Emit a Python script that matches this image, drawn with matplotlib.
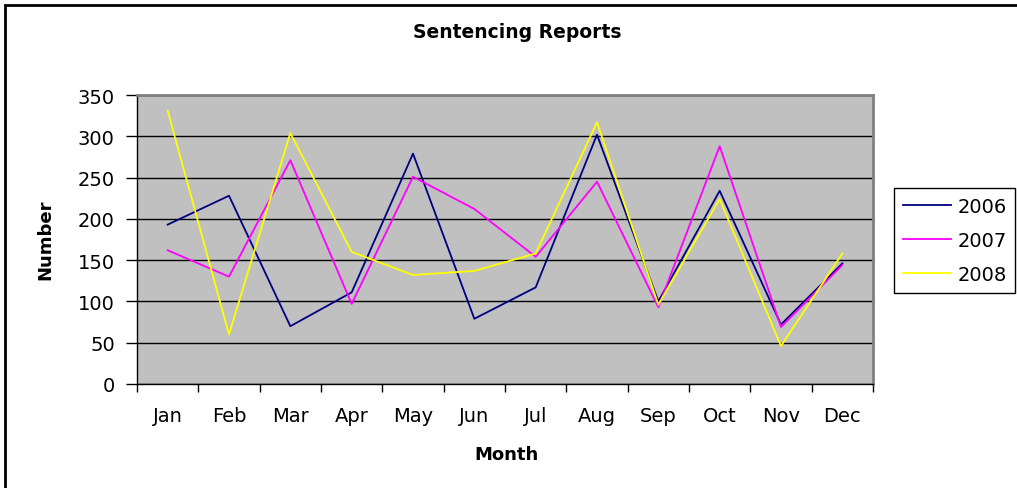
import matplotlib.pyplot as plt
from matplotlib.patches import Rectangle

plt.rcParams['font.family'] = ['DejaVu Sans']

# Datos
months = ["Jan", "Feb", "Mar", "Apr", "May", "Jun",
          "Jul", "Aug", "Sep", "Oct", "Nov", "Dec"]
y2006 = [193, 228, 70, 111, 279, 79, 117, 302, 100, 234, 72, 146]
y2007 = [162, 130, 271, 97, 251, 212, 154, 245, 93, 288, 69, 144]
y2008 = [331, 60, 304, 160, 132, 137, 158, 317, 96, 224, 46, 158]
years = ["2006", "2007", "2008"]
colors = ["#000080", "#FF00FF", "#FFFF00"]

W, H = 1017, 489
fig = plt.figure(figsize=(W / 100, H / 100), dpi=100)

# Marco exterior
fig.patches.append(Rectangle((4.5 / W, -0.1), 2, 1 - 5.5 / H + 0.1,
                             transform=fig.transFigure, fill=False,
                             ec='black', lw=2))

ax = fig.add_axes([137 / W, 1 - 385 / H, (873 - 137) / W, (385 - 96) / H])
ax.set_facecolor('#C0C0C0')

x = range(len(months))
for vals, lab, col in zip([y2006, y2007, y2008], years, colors):
    ax.plot(x, vals, color=col, lw=1.3, label=lab)

ax.set_xlim(-0.5, len(months) - 0.5)
ax.set_ylim(0, 350)
ax.set_yticks(range(0, 351, 50))
ax.set_xticks([i - 0.5 for i in range(len(months) + 1)], minor=False)
ax.set_xticklabels([])
ax.set_xticks(list(x), minor=True)
ax.set_xticklabels(months, minor=True)
ax.tick_params(axis='x', which='minor', length=0, pad=16, labelsize=14)
ax.tick_params(axis='x', which='major', length=6, width=1, color='black')
ax.tick_params(axis='y', length=8, width=1, pad=8, labelsize=14)
ax.yaxis.grid(True, color='black', lw=1)
ax.set_axisbelow(True)

for s in ['top', 'right']:
    ax.spines[s].set_color('#808080')
    ax.spines[s].set_linewidth(2)
for s in ['left', 'bottom']:
    ax.spines[s].set_color('black')
    ax.spines[s].set_linewidth(1)

fig.text(517 / W, 1 - 33 / H, "Sentencing Reports", ha='center', va='center',
         fontsize=13.5, fontweight='bold')
fig.text(506 / W, 1 - 455 / H, "Month", ha='center', va='center',
         fontsize=13, fontweight='bold')
fig.text(45 / W, 1 - 240 / H, "Number", ha='center', va='center',
         fontsize=13, fontweight='bold', rotation=90)

leg = ax.legend(loc='upper left', bbox_to_anchor=(894 / W, 1 - 189 / H),
                bbox_transform=fig.transFigure, fontsize=14, frameon=True,
                fancybox=False, edgecolor='black', framealpha=1,
                handlelength=2.5, handletextpad=0.3, labelspacing=0.78,
                borderaxespad=0, borderpad=0.45)
leg.get_frame().set_linewidth(1)

plt.savefig("out.png", dpi=100)
